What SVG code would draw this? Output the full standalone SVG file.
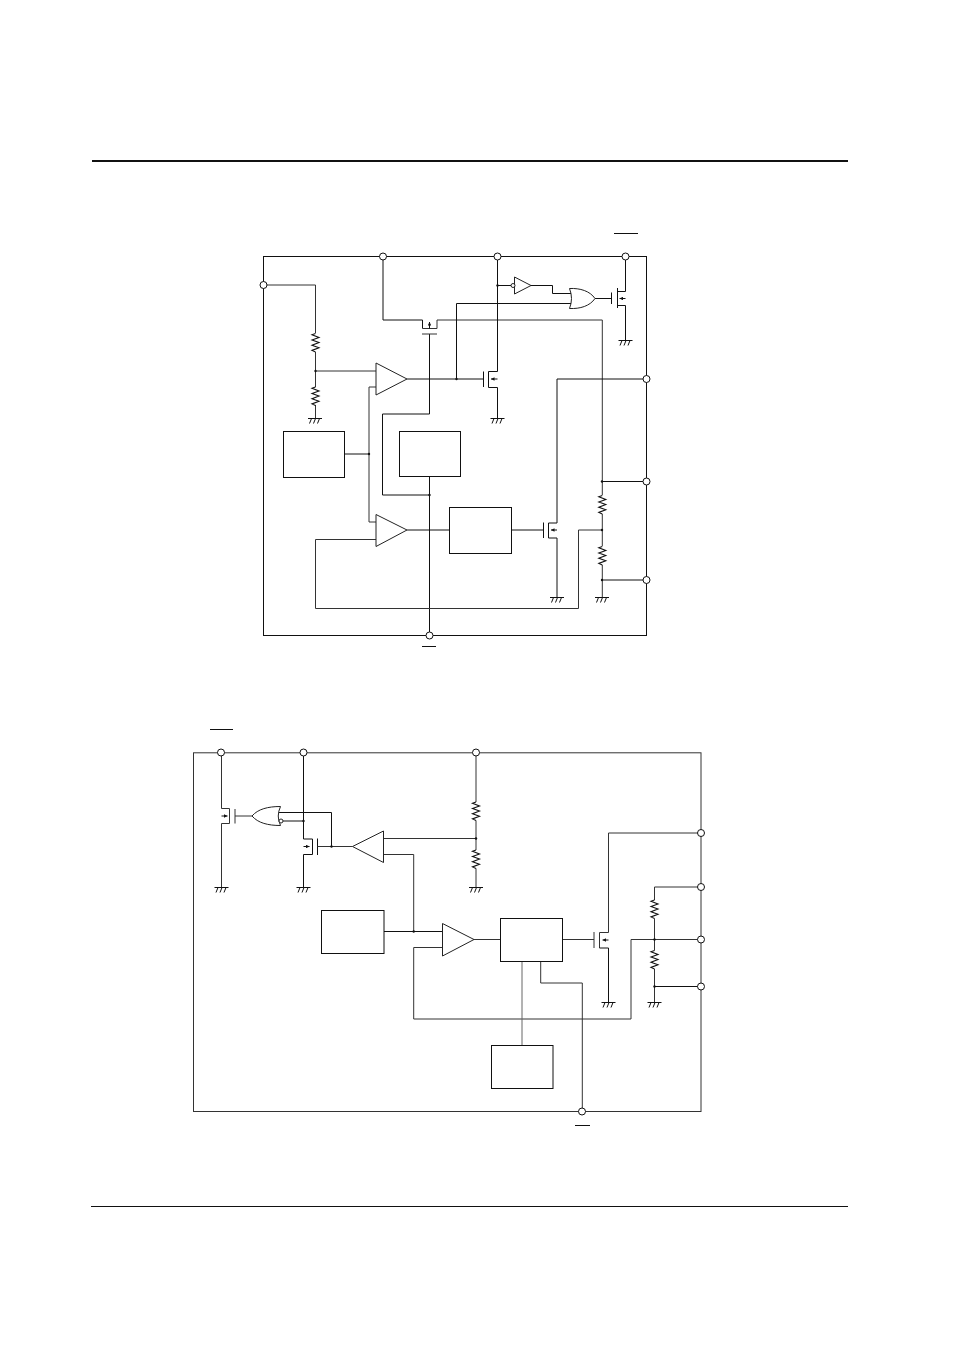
<svg xmlns="http://www.w3.org/2000/svg" width="954" height="1351" viewBox="0 0 954 1351">
<style>
.w{fill:none;stroke:#111;stroke-width:1}
.g{fill:none;stroke:#333;stroke-width:1}
.r{fill:none;stroke:#111;stroke-width:1.1}
.b{fill:#fff;stroke:#111;stroke-width:1}
.t{fill:#fff;stroke:#222;stroke-width:1}
.d{fill:#111;stroke:none}
</style>
<defs>
<marker id="ah" viewBox="0 0 4 4" refX="4" refY="2" markerWidth="3.500" markerHeight="3.500" markerUnits="userSpaceOnUse" orient="auto"><path d="M0 0L4 2L0 4z" fill="#111"/></marker>
<path id="res" class="r" d="M0 0L-3.500 1.300L3.500 3.900L-3.500 6.500L3.500 9.100L-3.500 11.700L3.500 14.300L-3.500 16.900L0 18.500"/>
<path id="gnd" class="w" d="M-7 0H7M-3.500 0L-5.500 5M0.500 0L-1.500 5M4.500 0L2.500 5"/>
</defs>
<rect width="954" height="1351" fill="#fff"/>
<g id="page-rules">
<path d="M92 161H848" fill="none" stroke="#111" stroke-width="2"/>
<path d="M91 1206.500H848" class="w"/>
<path d="M614 233.500H638M422 646.500H436M210 729.500H233M575 1125.500H590" class="w"/>
</g>
<g id="connectors">
<!-- diagram 1 -->
<rect x="263.500" y="256.500" width="383" height="379" class="w"/>
<path class="g" d="M263.500 285H315.500V333M315.500 352V387M315.500 405V418"/>
<path class="g" d="M315.500 371H376"/>
<path class="g" d="M376 387H369V522H376"/>
<path class="w" d="M344.500 454H369"/>
<path class="w" d="M429.500 476.500V632"/>
<path class="w" d="M429.500 495H382.500V414H429.500V334"/>
<path class="w" d="M383 256.500V320H422.500V328.500"/>
<path class="g" d="M422.500 328.500H437V320H602.300V495M602.300 514V546M602.300 565V597.500"/>
<path class="g" d="M422 334H437"/>
<path class="w" d="M602 481.500H646.500M602 580H646.500"/>
<path class="g" d="M602 530H578.500V608.500H315.500V539.500H376"/>
<path class="w" d="M407 530H449.500M511.500 530H543.500"/>
<path class="w" d="M543.500 522.500V538M548.500 523V538"/>
<path class="w" d="M646.500 379H557V523H548.500M548.500 538H557V597.500"/>
<path class="w" d="M557 530H551" marker-end="url(#ah)"/>
<path class="w" d="M407 379H483.500M483.500 371.500V387M488.500 371.500V387.500"/>
<path class="w" d="M497.500 256.500V371.500H488.500M488.500 387.500H497.500V418"/>
<path class="w" d="M497.500 379H491" marker-end="url(#ah)"/>
<path class="w" d="M456.500 379V303.500H571"/>
<path class="w" d="M497.500 285.500H512M531 285.500H552.500V293.500H571"/>
<path class="w" d="M595 298.500H611.500M611.500 292.500V304M617.500 288V308"/>
<path class="w" d="M625.500 256.500V291.500H617.500M617.500 305.500H625.500V340.500"/>
<path class="w" d="M625.500 298.500H619.500" marker-end="url(#ah)"/>
<path class="w" d="M429.500 328.500V322" marker-end="url(#ah)"/>
<!-- diagram 2 -->
<rect x="193.500" y="752.800" width="507.500" height="358.700" class="g"/>
<path class="g" d="M221.500 752.500V808.500H229.500M229.500 823.500H221.500V887M229.500 808.500V823.500M235 809V823.500"/>
<path class="w" d="M221.500 816H227.500" marker-end="url(#ah)"/>
<path class="g" d="M235 816H252"/>
<path class="w" d="M279 812.500H331.500V846.500"/>
<path class="w" d="M283 821H303.500"/>
<path class="w" d="M303.500 752.500V839H312.500M312.500 854.500H303.500V887M312.500 839V854.500M317.500 838.500V855"/>
<path class="w" d="M303.500 846.500H309.500" marker-end="url(#ah)"/>
<path class="g" d="M317.500 846.500H352.500"/>
<path class="g" d="M476 752.500V802M476 820.500V850M476 868.500V887M383.500 838.500H476"/>
<path class="g" d="M383.500 854.500H413.700V931.500"/>
<path class="w" d="M384 931.500H442.500"/>
<path class="g" d="M442.500 947.500H413.700V1019H631V939.500H701"/>
<path class="g" d="M474 939.500H500.500M562.500 939.500H594M594 932V948M599.500 932.500V948"/>
<path class="g" d="M701 833H608.500V932.500H599.500"/>
<path class="w" d="M599.500 948H608.500V1002"/>
<path class="w" d="M608.500 940H602.500" marker-end="url(#ah)"/>
<path class="g" d="M701 887H654.500V900M654.500 918.500V950.500M654.500 969V1002"/>
<path class="w" d="M654.500 986.500H701"/>
<path d="M522 961.500V1045.500" fill="none" stroke="#666" stroke-width="1"/>
<path class="g" d="M540.700 961.500V983H582.300V1108"/>
</g>
<g id="junctions">
<circle class="d" cx="315.500" cy="371" r="1.200"/><circle class="d" cx="369" cy="454" r="1.200"/><circle class="d" cx="429.500" cy="495" r="1.200"/>
<circle class="d" cx="456.500" cy="379" r="1.200"/><circle class="d" cx="497.500" cy="285.500" r="1.200"/><circle class="d" cx="602" cy="481.500" r="1.200"/>
<circle class="d" cx="602" cy="530" r="1.200"/><circle class="d" cx="602" cy="580" r="1.200"/>
<circle class="d" cx="303.500" cy="821" r="1.200"/><circle class="d" cx="331.500" cy="846.500" r="1.200"/><circle class="d" cx="476" cy="838.500" r="1.200"/>
<circle class="d" cx="413.700" cy="931.500" r="1.200"/><circle class="d" cx="654.500" cy="939.500" r="1.200"/><circle class="d" cx="654.500" cy="986.500" r="1.200"/>
</g>
<g id="resistors">
<use href="#res" x="315.500" y="333.500"/><use href="#res" x="315.500" y="387"/>
<use href="#res" x="602.300" y="495.500"/><use href="#res" x="602.300" y="546.500"/>
<use href="#res" x="476" y="802"/><use href="#res" x="476" y="850"/>
<use href="#res" x="654.500" y="900"/><use href="#res" x="654.500" y="950.500"/>
</g>
<g id="grounds">
<use href="#gnd" x="315" y="418.500"/><use href="#gnd" x="497.500" y="418.500"/><use href="#gnd" x="625.500" y="340.500"/>
<use href="#gnd" x="557" y="597.500"/><use href="#gnd" x="602" y="597.500"/>
<use href="#gnd" x="221.500" y="887.500"/><use href="#gnd" x="303.500" y="887.500"/><use href="#gnd" x="476" y="887.500"/>
<use href="#gnd" x="608.500" y="1002.500"/><use href="#gnd" x="654.500" y="1002.500"/>
</g>
<g id="block-1"><rect class="b" x="283.500" y="431.500" width="61" height="46"/></g>
<g id="block-2"><rect class="b" x="399.500" y="431.500" width="61" height="45"/></g>
<g id="block-3"><rect class="b" x="449.500" y="507.500" width="62" height="46"/></g>
<g id="block-4"><rect class="b" x="321.500" y="910.500" width="62.500" height="43"/></g>
<g id="block-5"><rect class="b" x="500.500" y="918.500" width="62" height="43"/></g>
<g id="block-6"><rect class="b" x="491.500" y="1045.500" width="61.500" height="43"/></g>
<g id="amp-1"><path class="t" d="M376 363V395L407 379Z"/></g>
<g id="amp-2"><path class="t" d="M376 514.500V546.500L407 530Z"/></g>
<g id="amp-3"><path class="t" d="M383.500 831V862.500L352.500 846.500Z"/></g>
<g id="amp-4"><path class="t" d="M442.500 923.500V956L474 939.500Z"/></g>
<g id="inverter"><path class="t" d="M514.500 277V294L531 285.500Z"/><circle class="t" cx="513" cy="285.500" r="2"/></g>
<g id="or-1"><path class="t" d="M569.500 288.500C580 288 590 291 595 298.500C590 306 580 309 569.500 308.500Q573.500 298.500 569.500 288.500Z"/></g>
<g id="or-2"><path class="t" d="M280.500 806.500C268 806.500 258 809 252 816C258 823 268 825.500 280.500 825.500Q276 816 280.500 806.500Z"/><circle class="t" cx="281" cy="821" r="2"/></g>
<g id="terminals">
<circle class="b" cx="383" cy="256.500" r="3.500"/><circle class="b" cx="497.500" cy="256.500" r="3.500"/><circle class="b" cx="625.500" cy="256.500" r="3.500"/>
<circle class="b" cx="263.500" cy="285" r="3.500"/><circle class="b" cx="646.500" cy="379" r="3.500"/><circle class="b" cx="646.500" cy="481.500" r="3.500"/>
<circle class="b" cx="646.500" cy="580" r="3.500"/><circle class="b" cx="429.500" cy="635.500" r="3.500"/>
<circle class="b" cx="221" cy="752.500" r="3.500"/><circle class="b" cx="303.500" cy="752.500" r="3.500"/><circle class="b" cx="476" cy="752.500" r="3.500"/>
<circle class="b" cx="701" cy="833" r="3.500"/><circle class="b" cx="701" cy="887" r="3.500"/><circle class="b" cx="701" cy="939.500" r="3.500"/>
<circle class="b" cx="701" cy="986.500" r="3.500"/><circle class="b" cx="582" cy="1111.500" r="3.500"/>
</g>
</svg>
